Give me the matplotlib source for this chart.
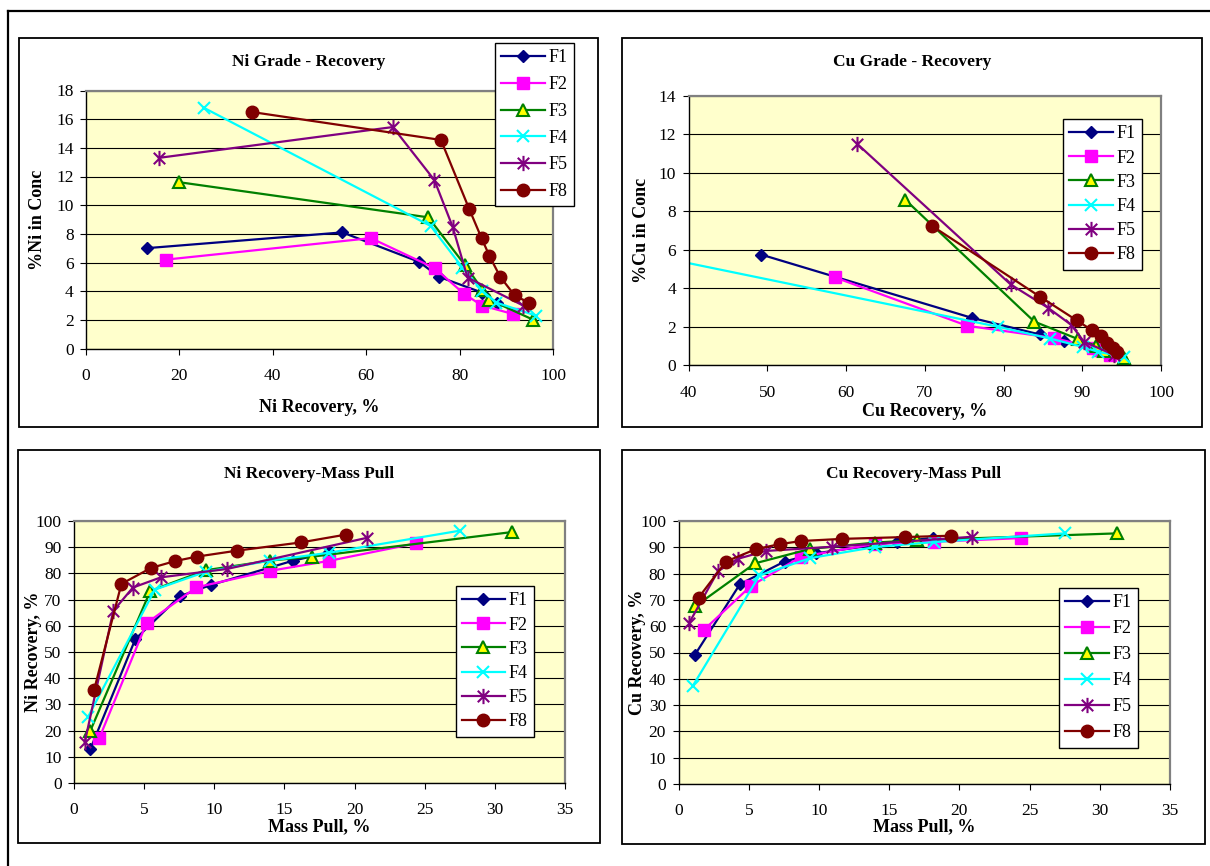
import matplotlib
matplotlib.use("Agg")
import matplotlib.pyplot as plt
from matplotlib.path import Path
from matplotlib.patches import Rectangle
from matplotlib.lines import Line2D

plt.rcParams['font.family'] = ['Liberation Serif', 'DejaVu Serif']

# ---- data ----
series = ["F1", "F2", "F3", "F4", "F5", "F8"]

# mass pull, % (same samples in both mass-pull charts)
mass_f1 = [1.17, 4.37, 7.55, 9.77, 15.58, 18.15]
mass_f2 = [1.8, 5.17, 8.73, 14.0, 18.2, 24.4]
mass_f3 = [1.17, 5.44, 9.38, 14.0, 17.0, 31.25]
mass_f4 = [1.0, 5.76, 9.38, 14.0, 18.2, 27.5]
mass_f5 = [0.77, 2.8, 4.2, 6.2, 10.9, 20.9]
mass_f8 = [1.43, 3.38, 5.5, 7.2, 8.75, 11.64, 16.15, 19.37]

# Ni recovery, %
ni_rec_f1 = [13.0, 54.9, 71.3, 75.6, 84.8, 88.0]
ni_rec_f2 = [17.1, 61.0, 74.7, 81.0, 84.8, 91.5]
ni_rec_f3 = [20.0, 73.3, 81.2, 84.9, 86.4, 95.8]
ni_rec_f4 = [25.2, 73.8, 80.6, 84.9, 87.9, 96.3]
ni_rec_f5 = [15.6, 65.7, 74.6, 78.5, 81.7, 93.6]
ni_rec_f8 = [35.5, 76.0, 82.1, 84.7, 86.4, 88.7, 91.8, 94.8]

# %Ni in concentrate
ni_gr_f1 = [7.0, 8.1, 6.05, 5.0, 3.9, 3.15]
ni_gr_f2 = [6.2, 7.7, 5.6, 3.8, 3.0, 2.4]
ni_gr_f3 = [11.6, 9.15, 5.8, 4.1, 3.4, 2.0]
ni_gr_f4 = [16.8, 8.55, 5.65, 4.0, 3.2, 2.3]
ni_gr_f5 = [13.3, 15.45, 11.75, 8.5, 4.95, 3.0]
ni_gr_f8 = [16.5, 14.55, 9.7, 7.7, 6.45, 5.0, 3.7, 3.2]

# Cu recovery, %
cu_rec_f1 = [49.2, 76.0, 84.6, 87.7, 92.1, 93.6]
cu_rec_f2 = [58.6, 75.4, 86.4, 91.3, 92.1, 93.5]
cu_rec_f3 = [67.5, 83.9, 89.4, 91.8, 92.7, 95.3]
cu_rec_f4 = [37.2, 79.3, 85.9, 90.1, 92.0, 95.3]
cu_rec_f5 = [61.4, 80.9, 85.6, 88.6, 90.2, 94.0]
cu_rec_f8 = [70.9, 84.6, 89.3, 91.2, 92.4, 93.2, 93.9, 94.4]

# %Cu in concentrate
cu_gr_f1 = [5.75, 2.46, 1.6, 1.25, 0.85, 0.7]
cu_gr_f2 = [4.56, 2.05, 1.42, 0.92, 0.8, 0.53]
cu_gr_f3 = [8.6, 2.27, 1.37, 1.0, 0.76, 0.38]
cu_gr_f4 = [5.54, 2.0, 1.39, 0.95, 0.7, 0.45]
cu_gr_f5 = [11.5, 4.2, 3.0, 2.1, 1.23, 0.55]
cu_gr_f8 = [7.24, 3.57, 2.33, 1.83, 1.52, 1.17, 0.88, 0.71]

mass = [mass_f1, mass_f2, mass_f3, mass_f4, mass_f5, mass_f8]
ni_rec = [ni_rec_f1, ni_rec_f2, ni_rec_f3, ni_rec_f4, ni_rec_f5, ni_rec_f8]
ni_gr = [ni_gr_f1, ni_gr_f2, ni_gr_f3, ni_gr_f4, ni_gr_f5, ni_gr_f8]
cu_rec = [cu_rec_f1, cu_rec_f2, cu_rec_f3, cu_rec_f4, cu_rec_f5, cu_rec_f8]
cu_gr = [cu_gr_f1, cu_gr_f2, cu_gr_f3, cu_gr_f4, cu_gr_f5, cu_gr_f8]

# ---- styles ----
asterisk = Path([(0, -1), (0, 1), (-0.75, -0.75), (0.75, 0.75), (-0.75, 0.75), (0.75, -0.75)],
                [Path.MOVETO, Path.LINETO, Path.MOVETO, Path.LINETO, Path.MOVETO, Path.LINETO])
styles = [
    dict(color="#000080", marker="D", ms=6.5, mfc="#000080", mec="#000080"),
    dict(color="#FF00FF", marker="s", ms=8.5, mfc="#FF00FF", mec="#FF00FF"),
    dict(color="#008000", marker="^", ms=8.5, mfc="#FFFF00", mec="#008000", mew=1.5),
    dict(color="#00FFFF", marker="x", ms=9, mec="#00FFFF", mew=1.5),
    dict(color="#800080", marker=asterisk, ms=11, mec="#800080", mew=1.5),
    dict(color="#800000", marker="o", ms=9, mfc="#800000", mec="#800000"),
]

W, H = 1210, 866
fig = plt.figure(figsize=(W / 100, H / 100), dpi=100)


def fbox(l, t, r, b):
    return [l / W, 1 - b / H, (r - l) / W, (b - t) / H]


# outer frame (only top and left visible)
fig.add_artist(Line2D([8 / W, 8 / W], [0, 1 - 11 / H], transform=fig.transFigure, color="black", lw=1.6))
fig.add_artist(Line2D([8 / W, 1], [1 - 11 / H, 1 - 11 / H], transform=fig.transFigure, color="black", lw=1.6))

panels = [
    dict(frame=(19, 38, 598, 427), ax=(86, 90.5, 553, 348.5), xs=ni_rec, ys=ni_gr,
         xlim=(0, 100), xstep=20, ylim=(0, 18), ystep=2,
         title="Ni Grade - Recovery", title_y=62, xlabel="Ni Recovery, %", xlabel_y=407,
         ylabel="%Ni in Conc", ylabel_x=38, leg=(495, 43), legsp=0.54),
    dict(frame=(622, 38, 1202, 427), ax=(688.7, 95.7, 1161, 365.3), xs=cu_rec, ys=cu_gr,
         xlim=(40, 100), xstep=10, ylim=(0, 14), ystep=2,
         title="Cu Grade - Recovery", title_y=62, xlabel="Cu Recovery, %", xlabel_y=412,
         ylabel="%Cu in Conc", ylabel_x=641, leg=(1063, 119), legsp=0.4),
    dict(frame=(18, 450, 600, 843), ax=(74, 521, 565, 783), xs=mass, ys=ni_rec,
         xlim=(0, 35), xstep=5, ylim=(0, 100), ystep=10,
         title="Ni Recovery-Mass Pull", title_y=474, xlabel="Mass Pull, %", xlabel_y=827,
         ylabel="Ni Recovery, %", ylabel_x=33, leg=(455.5, 586), legsp=0.4),
    dict(frame=(622, 450, 1205, 844), ax=(678.6, 521, 1170, 784), xs=mass, ys=cu_rec,
         xlim=(0, 35), xstep=5, ylim=(0, 100), ystep=10,
         title="Cu Recovery-Mass Pull", title_y=474, xlabel="Mass Pull, %", xlabel_y=827,
         ylabel="Cu Recovery, %", ylabel_x=638, leg=(1059, 588), legsp=0.5),
]

for p in panels:
    l, t, r, b = p["frame"]
    fig.add_artist(Rectangle((l / W, 1 - b / H), (r - l) / W, (b - t) / H, transform=fig.transFigure,
                             fill=False, edgecolor="black", lw=1.3))
    ax = fig.add_axes(fbox(*p["ax"]))
    ax.set_facecolor("#FFFFCC")
    for name, xv, yv, st in zip(series, p["xs"], p["ys"], styles):
        ax.plot(xv, yv, lw=1.6, label=name, **st)
    ax.set_xlim(*p["xlim"])
    ax.set_ylim(*p["ylim"])
    x0, x1 = p["xlim"]
    y0, y1 = p["ylim"]
    ax.set_xticks(range(x0, x1 + 1, p["xstep"]))
    ax.set_yticks(range(y0, y1 + 1, p["ystep"]))
    ax.yaxis.grid(True, color="black", lw=0.8)
    ax.set_axisbelow(True)
    ax.tick_params(direction="out", length=4, width=0.8, labelsize=12.5, color="black")
    ax.tick_params(axis="x", pad=10)
    ax.tick_params(axis="y", pad=5)
    for s in ("top", "right"):
        ax.spines[s].set_color("#808080")
        ax.spines[s].set_linewidth(1.6)
    for s in ("left", "bottom"):
        ax.spines[s].set_color("black")
        ax.spines[s].set_linewidth(1.0)

    al, at, ar, ab = p["ax"]
    cx = (l + r) / 2
    fig.text(cx / W, 1 - p["title_y"] / H, p["title"], ha="center", va="center",
             fontsize=12.5, fontweight="bold")
    fig.text(((al + ar) / 2) / W, 1 - p["xlabel_y"] / H, p["xlabel"], ha="center", va="center",
             fontsize=13, fontweight="bold")
    fig.text(p["ylabel_x"] / W, 1 - ((at + ab) / 2) / H, p["ylabel"], ha="center", va="center",
             rotation=90, fontsize=13, fontweight="bold")

    lx, ly = p["leg"]
    leg = ax.legend(loc="upper left", bbox_to_anchor=(lx / W, 1 - ly / H), bbox_transform=fig.transFigure,
                    fontsize=13, frameon=True, fancybox=False, edgecolor="black", framealpha=1,
                    handlelength=2.4, handletextpad=0.2, borderpad=0.35, labelspacing=p["legsp"],
                    borderaxespad=0)
    leg.get_frame().set_linewidth(1.0)
    leg.set_zorder(10)
    leg.set_clip_on(False)

fig.savefig("out.png", dpi=100)
